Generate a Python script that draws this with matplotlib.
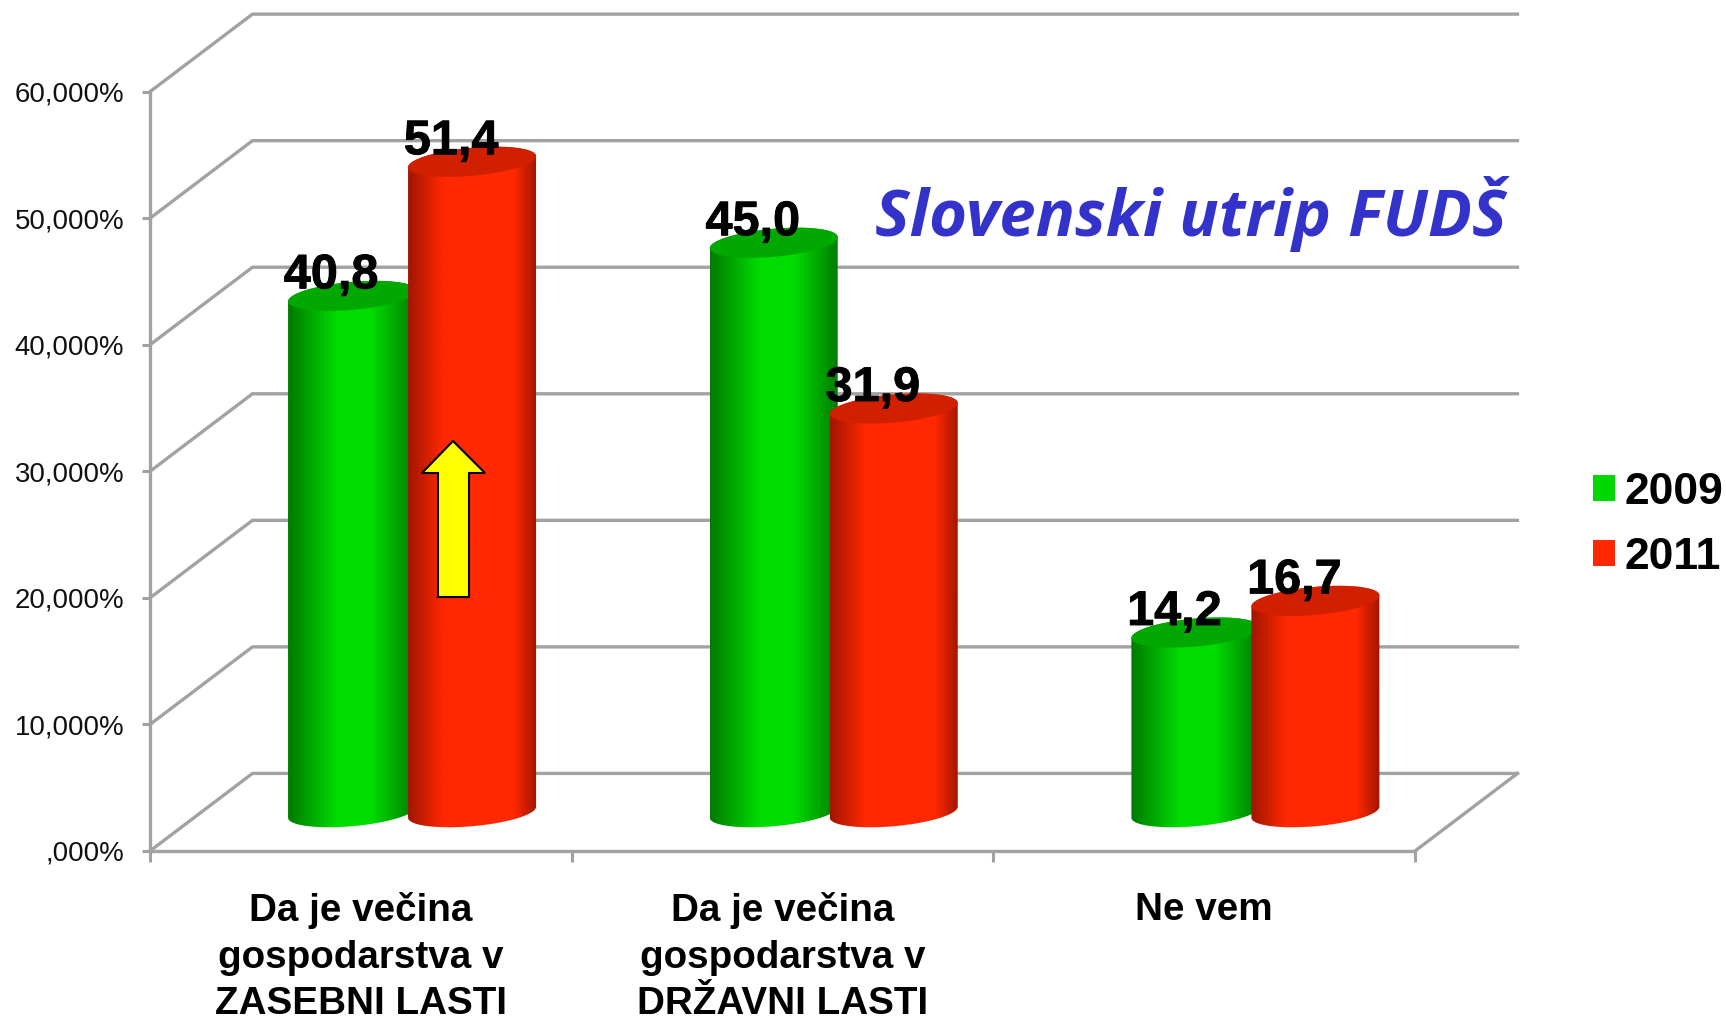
import matplotlib
matplotlib.use('Agg')
import matplotlib.pyplot as plt
import matplotlib.patheffects as pe
import numpy as np
from matplotlib.colors import LinearSegmentedColormap
from matplotlib.patches import Patch, PathPatch, Polygon
from matplotlib.path import Path

plt.rcParams['font.family'] = ['Liberation Sans', 'DejaVu Sans']

# data
categories = ['Da je večina\ngospodarstva v\nZASEBNI LASTI',
              'Da je večina\ngospodarstva v\nDRŽAVNI LASTI',
              'Ne vem']
series_names = ['2009', '2011']
values_2009 = [40.8, 45.0, 14.2]
values_2011 = [51.4, 31.9, 16.7]
labels_2009 = ['40,8', '45,0', '14,2']
labels_2011 = ['51,4', '31,9', '16,7']
y_ticks = [0, 10, 20, 30, 40, 50, 60]
y_tick_labels = [',000%', '10,000%', '20,000%', '30,000%', '40,000%', '50,000%', '60,000%']

GRID = '#a2a2a2'
GREEN = '#00d800'
RED = '#ff2800'

W, H = 1726, 1019
fig = plt.figure(figsize=(W / 100, H / 100), dpi=100)
ax = fig.add_axes([150 / W, 1 - 851 / H, 1265 / W, 759.3 / H])
ax.set_xlim(0, 3)
ax.set_ylim(0, 60)

# fake 3d: how far the back wall is shifted from the front plane, in data units
dx = 0.243
dy = 6.13

# walls
for v in y_ticks:
    ax.plot([0, dx, 3 + dx], [v, v + dy, v + dy], color=GRID, lw=2.4, clip_on=False, zorder=1,
            solid_joinstyle='miter')
ax.plot([3, 3 + dx], [0, dy], color=GRID, lw=2.4, clip_on=False, zorder=1)

for s in ['top', 'right']:
    ax.spines[s].set_visible(False)
for s in ['left', 'bottom']:
    ax.spines[s].set_color(GRID)
    ax.spines[s].set_linewidth(2.4)
ax.patch.set_alpha(0)

ax.set_yticks(y_ticks)
ax.set_yticklabels(y_tick_labels, fontsize=19.9, color='#111111')
ax.tick_params(axis='y', length=6, width=2.2, color=GRID, pad=12.5)
ax.set_xticks([0, 1, 2, 3])
ax.set_xticklabels([])
ax.tick_params(axis='x', which='major', length=8, width=2.2, color=GRID)
ax.set_xticks([0.5, 1.5, 2.5], minor=True)
ax.set_xticklabels(categories, minor=True, fontsize=27.8, fontweight='bold', linespacing=1.38, va='top')
ax.tick_params(axis='x', which='minor', length=0, pad=29.5)

# cylinders
green_cmap = LinearSegmentedColormap.from_list('g', [(0, '#007a00'), (0.38, '#00dc00'), (0.65, '#00dc00'), (1, '#007a00')])
red_cmap = LinearSegmentedColormap.from_list('r', [(0, '#a01500'), (0.27, '#ff2800'), (0.82, '#ff2800'), (1, '#a01500')])

bar_w = 0.3036
bar_gap = 0.2846
tilt = 0.435
squash = 1.108


def ellipse(cx, cy, t):
    return cx + bar_w / 2 * np.cos(t), cy + tilt * np.cos(t) + squash * np.sin(t)


def cylinder(cx, value, cmap, top_color, z):
    base = dy / 2
    x1, y1 = ellipse(cx, base, np.linspace(np.pi, 2 * np.pi, 80))
    x2, y2 = ellipse(cx, base + value, np.linspace(0, np.pi, 80))
    verts = np.column_stack([np.r_[x1, x2], np.r_[y1, y2]])
    patch = PathPatch(Path(np.vstack([verts, verts[:1]])), fc='none', ec='none', zorder=z, clip_on=False)
    ax.add_patch(patch)
    grad = np.linspace(0, 1, 256).reshape(1, -1)
    im = ax.imshow(grad, cmap=cmap, aspect='auto', zorder=z, interpolation='bilinear',
                   extent=[cx - bar_w / 2, cx + bar_w / 2, base - 2, base + value + 2])
    im.set_clip_path(patch)
    xt, yt = ellipse(cx, base + value, np.linspace(0, 2 * np.pi, 120))
    ax.fill(xt, yt, color=top_color, zorder=z + 0.1, lw=0, clip_on=False)


heavy = [pe.withStroke(linewidth=0.6, foreground='black')]
for i in range(len(categories)):
    c = i + 0.5 + dx / 2
    cylinder(c - bar_gap / 2, values_2009[i], green_cmap, '#00a800', 3)
    cylinder(c + bar_gap / 2, values_2011[i], red_cmap, '#d02000', 4)
    ax.annotate(labels_2009[i], (c - bar_gap / 2, values_2009[i] + dy / 2), xytext=(-21, 20),
                textcoords='offset pixels', ha='center', va='center', fontsize=35, fontweight='bold',
                color='black', zorder=6, path_effects=heavy)
    ax.annotate(labels_2011[i], (c + bar_gap / 2, values_2011[i] + dy / 2), xytext=(-21, 20),
                textcoords='offset pixels', ha='center', va='center', fontsize=35, fontweight='bold',
                color='black', zorder=6, path_effects=heavy)

ax.set_xlim(0, 3)
ax.set_ylim(0, 60)

# yellow arrow, placed in figure pixels
arrow = np.array([(453, 441), (485, 473), (469, 473), (469, 597), (438, 597), (438, 473), (422, 473)], dtype=float)
arrow[:, 0] /= W
arrow[:, 1] = 1 - arrow[:, 1] / H
fig.add_artist(Polygon(arrow, closed=True, fc='#ffff00', ec='black', lw=1.5, transform=fig.transFigure, zorder=7))

fig.text(1191 / W, 1 - 236 / H, 'Slovenski utrip FUDŠ', color='#3333cc', fontsize=47, fontweight='bold',
         fontstyle='italic', family='Open Sans', ha='center', va='baseline')

handles = [Patch(fc=GREEN, ec='none'), Patch(fc=RED, ec='none')]
fig.legend(handles, series_names, loc='center left', bbox_to_anchor=(1593 / W, 1 - 525 / H), frameon=False,
           prop={'size': 32, 'weight': 'bold'}, handlelength=0.5, handleheight=0.52, handletextpad=0.2,
           labelspacing=0.54, borderpad=0, borderaxespad=0)

plt.savefig('out.png', dpi=100)
